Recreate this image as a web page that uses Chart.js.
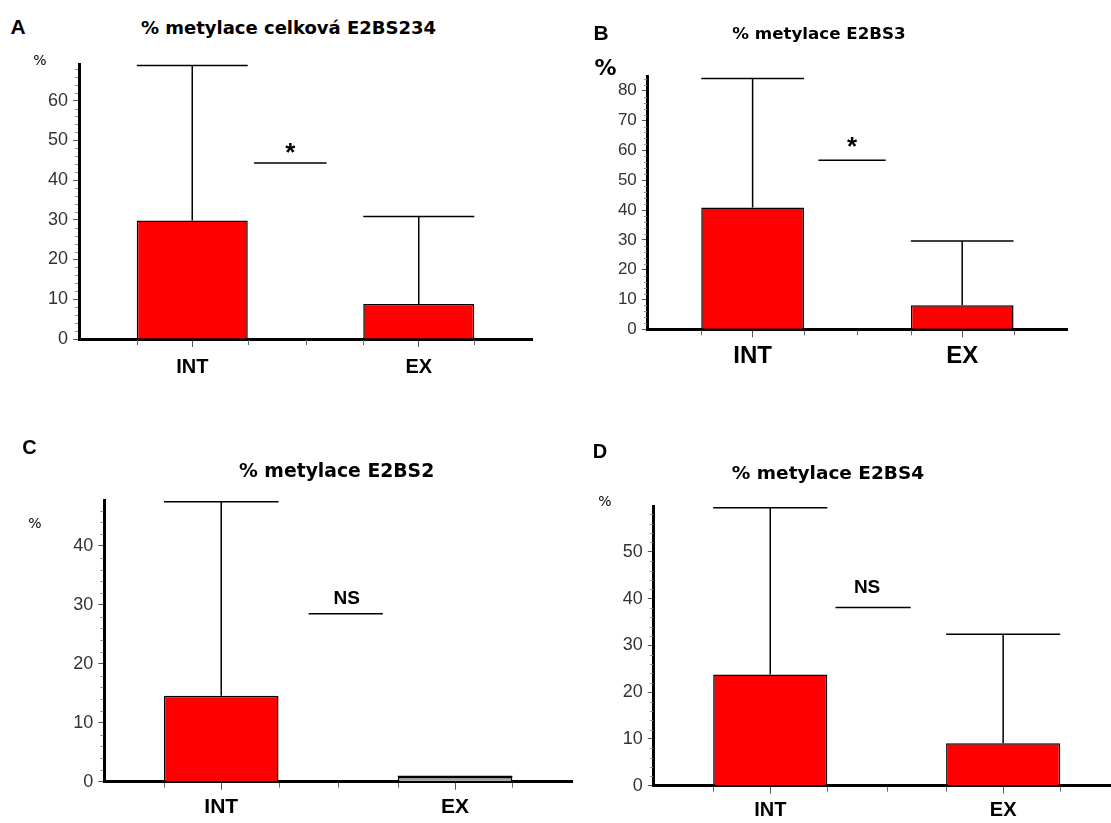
<!DOCTYPE html>
<html><head><meta charset="utf-8">
<script src="https://cdn.jsdelivr.net/npm/chart.js@4.4.0/dist/chart.umd.min.js"></script>
<style>
html,body{margin:0;padding:0;background:#fff;width:1111px;height:823px;overflow:hidden;position:relative;}
canvas{position:absolute;}
.t{position:absolute;transform:translate(-50%,-50%);white-space:nowrap;color:#000;line-height:1;}
.ttl{font-family:"DejaVu Sans",sans-serif;font-weight:bold;}
.let{font-family:"Liberation Sans",Arial,sans-serif;font-weight:bold;}
.pct{font-family:"DejaVu Sans",sans-serif;}
</style></head><body>
<script>
// ---- data ----
const categories = ['INT', 'EX'];
const meanA = [29.8, 8.8];  const sdA = [39.0, 22.0];
const meanB = [40.8, 8.1];  const sdB = [43.3, 21.5];
const meanC = [14.6, 0.8];  const sdC = [32.9, 0.1];
const meanD = [23.8, 9.1];  const sdD = [35.6, 23.3];
const yMax = [69.2, 84.7, 47.8, 59.8];
const ticksA = [0, 10, 20, 30, 40, 50, 60];
const ticksB = [0, 10, 20, 30, 40, 50, 60, 70, 80];
const ticksC = [0, 10, 20, 30, 40];
const ticksD = [0, 10, 20, 30, 40, 50];
const minorStep = 2;
const titles = ['% metylace celková E2BS234', '% metylace E2BS3', '% metylace E2BS2', '% metylace E2BS4'];
const panelLetters = ['A', 'B', 'C', 'D'];
const yUnit = '%';
const sigLevel = [44.3, 56.7, 28.5, 38.1];
const sigFrom = [0.273, 0.314, 0.374, 0.28];
const sigTo = [0.593, 0.635, 0.691, 0.603];
const sigText = ['*', '*', 'NS', 'NS'];

// ---- layout / style (not data) ----
const layouts = [
  {canvas:{x:0,y:40,w:555,h:360}, area:{l:79,r:532,t:64,b:339}, tickFont:18, catFont:20, catPad:8,
   title:{x:288.5,y:28,size:18}, letter:{x:18,y:26,size:21}, pct:{x:40,y:60,size:14,bold:false},
   sigFont:26, sigGap:2, sigShift:0, fills:['#ff0000','#ff0000']},
  {canvas:{x:560,y:40,w:551,h:360}, area:{l:647.8,r:1067,t:76.7,b:329.3}, tickFont:17, catFont:24, catPad:5,
   title:{x:819,y:33,size:16.7}, letter:{x:601,y:32,size:21}, pct:{x:605.5,y:68,size:22,bold:true},
   sigFont:26, sigGap:5, sigShift:0, fills:['#ff0000','#ff0000']},
  {canvas:{x:0,y:480,w:580,h:343}, area:{l:104.3,r:572,t:500,b:781.7}, tickFont:18, catFont:21, catPad:5,
   title:{x:336.6,y:471,size:18.8}, letter:{x:29.5,y:446.7,size:20}, pct:{x:35,y:523,size:14,bold:false},
   sigFont:19, sigGap:10, sigShift:1, fills:['#ff0000','#a8a8a8']},
  {canvas:{x:560,y:480,w:570,h:343}, area:{l:653.8,r:1119.6,t:506,b:785.7}, tickFont:18, catFont:20, catPad:5,
   title:{x:828,y:473,size:18.5}, letter:{x:600,y:450.7,size:20}, pct:{x:605,y:501,size:14,bold:false},
   sigFont:19, sigGap:14, sigShift:-6, fills:['#ff0000','#ff0000']}
];
const means = [meanA, meanB, meanC, meanD];
const sds = [sdA, sdB, sdC, sdD];
const tickSets = [ticksA, ticksB, ticksC, ticksD];

const extrasPlugin = {
  id: 'extras',
  afterDatasetsDraw(chart, args, o) {
    const {ctx, chartArea} = chart;
    const x = chart.scales.x, y = chart.scales.y;
    const meta = chart.getDatasetMeta(0);
    const data = chart.data.datasets[0].data;
    ctx.save();
    // error bars
    ctx.strokeStyle = '#000'; ctx.lineWidth = 1.5;
    meta.data.forEach((bar, i) => {
      const half = bar.width / 2;
      const yb = y.getPixelForValue(data[i]);
      const yt = y.getPixelForValue(data[i] + o.sd[i]);
      ctx.beginPath();
      ctx.moveTo(bar.x, yb); ctx.lineTo(bar.x, yt);
      ctx.moveTo(bar.x - half, yt); ctx.lineTo(bar.x + half, yt);
      ctx.stroke();
    });
    // significance line + label
    const sy = y.getPixelForValue(o.sigLevel);
    const sx0 = x.getPixelForValue(o.sigFrom), sx1 = x.getPixelForValue(o.sigTo);
    ctx.beginPath(); ctx.moveTo(sx0, sy); ctx.lineTo(sx1, sy); ctx.stroke();
    ctx.fillStyle = '#000';
    ctx.font = 'bold ' + o.sigFont + 'px "Liberation Sans", Arial, sans-serif';
    ctx.textAlign = 'center'; ctx.textBaseline = 'alphabetic';
    ctx.fillText(o.sigText, (sx0 + sx1) / 2 + o.sigShift, sy - o.sigGap);
    // minor x ticks at bar edges and between categories
    ctx.strokeStyle = '#666'; ctx.lineWidth = 1;
    const xb = chartArea.bottom;
    const marks = [x.getPixelForValue(0.5)];
    meta.data.forEach(bar => { marks.push(bar.x - bar.width / 2, bar.x + bar.width / 2); });
    marks.forEach(px => { ctx.beginPath(); ctx.moveTo(Math.round(px)+0.5, xb + 1); ctx.lineTo(Math.round(px)+0.5, xb + 6); ctx.stroke(); });
    // minor y ticks
    ctx.strokeStyle = '#999';
    for (let v = 0; v <= y.max; v += o.minorStep) {
      if (o.ticks.includes(v)) continue;
      const py = Math.round(y.getPixelForValue(v)) + 0.5;
      ctx.beginPath(); ctx.moveTo(chartArea.left - 4, py); ctx.lineTo(chartArea.left - 1, py); ctx.stroke();
    }
    ctx.restore();
  }
};

function addText(cls, txt, x, y, size, bold) {
  const d = document.createElement('div');
  d.className = 't ' + cls;
  d.textContent = txt;
  d.style.left = x + 'px'; d.style.top = y + 'px'; d.style.fontSize = size + 'px';
  if (bold !== undefined) d.style.fontWeight = bold ? 'bold' : 'normal';
  document.body.appendChild(d);
}

layouts.forEach((L, i) => {
  const cv = document.createElement('canvas');
  cv.width = L.canvas.w; cv.height = L.canvas.h;
  cv.style.left = L.canvas.x + 'px'; cv.style.top = L.canvas.y + 'px';
  cv.style.width = L.canvas.w + 'px'; cv.style.height = L.canvas.h + 'px';
  document.body.appendChild(cv);
  const yw = L.area.l - L.canvas.x;
  const xh = L.canvas.y + L.canvas.h - L.area.b;
  new Chart(cv, {
    type: 'bar',
    data: { labels: categories, datasets: [{
      data: means[i], backgroundColor: L.fills, borderColor: '#000', borderWidth: 1.5,
      categoryPercentage: 1, barPercentage: 0.49
    }]},
    options: {
      responsive: false, animation: false, devicePixelRatio: 1,
      layout: { padding: { left: 0, top: L.area.t - L.canvas.y, right: L.canvas.x + L.canvas.w - L.area.r, bottom: 0 } },
      plugins: {
        legend: { display: false }, tooltip: { enabled: false }, title: { display: false },
        extras: { sd: sds[i], sigLevel: sigLevel[i], sigFrom: sigFrom[i], sigTo: sigTo[i], sigText: sigText[i],
                  sigFont: L.sigFont, sigGap: L.sigGap, sigShift: L.sigShift, minorStep: minorStep, ticks: tickSets[i] }
      },
      scales: {
        x: {
          afterFit: s => { s.height = xh; },
          ticks: { color: '#000', font: { family: '"Liberation Sans", Arial, sans-serif', size: L.catFont, weight: 'bold' }, padding: L.catPad },
          grid: { drawOnChartArea: false, offset: false, tickLength: 8, tickColor: '#555', tickWidth: 1 },
          border: { color: '#000', width: 3 }
        },
        y: {
          min: 0, max: yMax[i],
          afterFit: s => { s.width = yw; },
          afterBuildTicks: s => { s.ticks = tickSets[i].map(v => ({ value: v })); },
          ticks: { color: '#333', font: { family: '"Liberation Sans", Arial, sans-serif', size: L.tickFont }, padding: 5 },
          grid: { drawOnChartArea: false, tickLength: 6, tickColor: '#555', tickWidth: 1 },
          border: { color: '#000', width: 3 }
        }
      }
    },
    plugins: [extrasPlugin]
  });
  addText('ttl', titles[i], L.title.x, L.title.y, L.title.size);
  addText('let', panelLetters[i], L.letter.x, L.letter.y, L.letter.size);
  addText('pct', yUnit, L.pct.x, L.pct.y, L.pct.size, L.pct.bold);
});
</script>
</body></html>
